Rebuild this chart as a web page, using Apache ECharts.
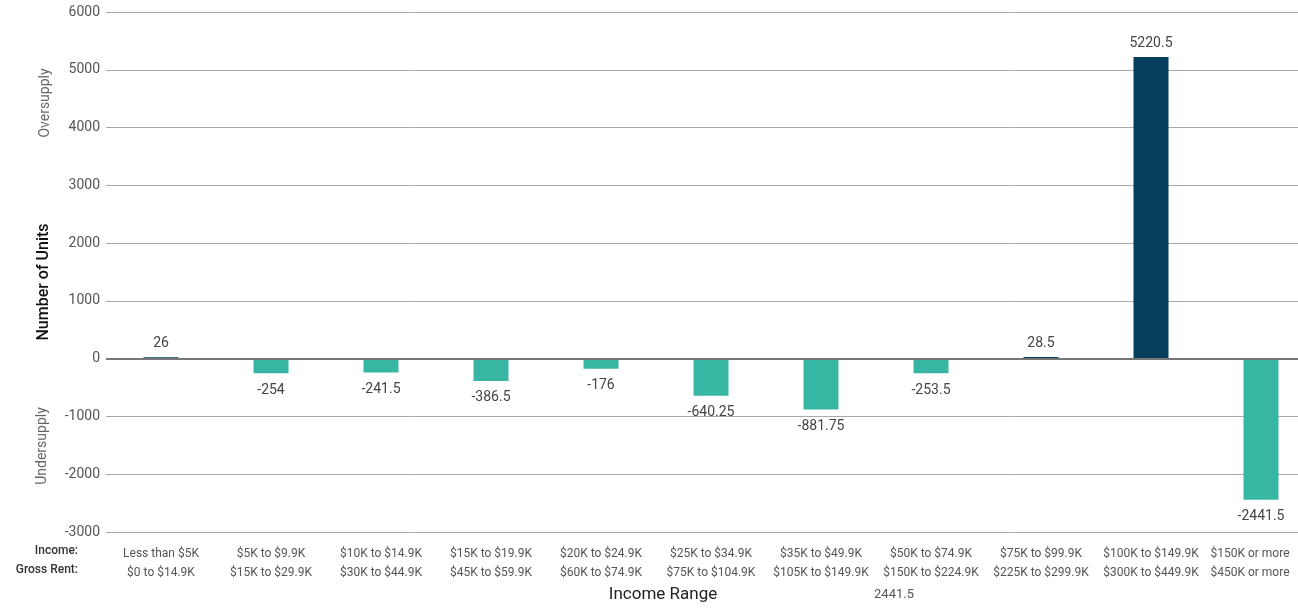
<!DOCTYPE html>
<html>
<head>
<meta charset="utf-8">
<script src="https://cdn.jsdelivr.net/npm/echarts@6/dist/echarts.min.js"></script>
<style>
  html, body { margin: 0; padding: 0; background: #fff; overflow: hidden; }
  /* plot runs a little past the right edge of the window, like the original */
  #main { width: 1316px; height: 611px; }
</style>
</head>
<body>
<div id="main"></div>
<script>
// categories, two lines each
var incomeLabels = ['Less than $5K', '$5K to $9.9K', '$10K to $14.9K', '$15K to $19.9K', '$20K to $24.9K', '$25K to $34.9K',
    '$35K to $49.9K', '$50K to $74.9K', '$75K to $99.9K', '$100K to $149.9K', '$150K or more'];
var rentLabels = ['$0 to $14.9K', '$15K to $29.9K', '$30K to $44.9K', '$45K to $59.9K', '$60K to $74.9K', '$75K to $104.9K',
    '$105K to $149.9K', '$150K to $224.9K', '$225K to $299.9K', '$300K to $449.9K', '$450K or more'];
// units, oversupply (+) / undersupply (-)
var unitValues = [26, -254, -241.5, -386.5, -176, -640.25, -881.75, -253.5, 28.5, 5220.5, -2441.5];

// last label is pulled left so it stays inside the window
var categories = incomeLabels.map(function (s, i) {
    var item = { value: s + '\n' + rentLabels[i] };
    if (i == incomeLabels.length - 1) {
        item.textStyle = { padding: [0, 22, 0, 0] };
    }
    return item;
});

var navy = '#063f5d';
var teal = '#38b6a4';
var fontName = 'Roboto';

var myChart = echarts.init(document.getElementById('main'));

// bar data, label below the bar when negative
var barData = unitValues.map(function (v) {
    return {
        value: v,
        label: { position: v >= 0 ? 'top' : 'bottom', distance: v >= 0 ? 7 : 10 }
    };
});

var option = {
    animation: false,
    textStyle: { fontFamily: fontName },
    grid: {
        left: 106,
        right: 0,
        top: 12,
        bottom: 79,
        containLabel: false
    },
    xAxis: {
        type: 'category',
        data: categories,
        axisLine: { show: false, onZero: false },
        axisTick: { show: false },
        axisLabel: {
            interval: 0,
            margin: 12,
            fontSize: 12,
            lineHeight: 19,
            color: '#555',
            fontFamily: fontName
        }
    },
    yAxis: {
        type: 'value',
        min: -3000,
        max: 6000,
        interval: 1000,
        axisLine: { show: false },
        axisTick: { show: false },
        axisLabel: {
            margin: 6,
            fontSize: 14,
            color: '#555',
            fontFamily: fontName,
            formatter: function (v) { return String(v); }
        },
        splitLine: {
            lineStyle: { color: '#aaa', width: 1 }
        }
    },
    series: [{
        name: 'Number of Units',
        type: 'bar',
        barWidth: 35,
        data: barData,
        itemStyle: {
            color: function (p) { return p.value >= 0 ? navy : teal; }
        },
        label: {
            show: true,
            fontSize: 14,
            color: '#444',
            fontFamily: fontName
        },
        markLine: {
            silent: true,
            symbol: 'none',
            label: { show: false },
            lineStyle: { color: '#777', width: 2, type: 'solid' },
            data: [{ yAxis: 0 }]
        }
    }],
    graphic: [
        {
            type: 'text', rotation: Math.PI / 2, x: 44, y: 282,
            style: { text: 'Number of Units', fontSize: 16, fontWeight: 500, fill: '#111', fontFamily: fontName,
                align: 'center', verticalAlign: 'middle' }
        },
        {
            type: 'text', rotation: Math.PI / 2, x: 45, y: 103,
            style: { text: 'Oversupply', fontSize: 14, fill: '#666', fontFamily: fontName,
                align: 'center', verticalAlign: 'middle' }
        },
        {
            type: 'text', rotation: Math.PI / 2, x: 42, y: 446,
            style: { text: 'Undersupply', fontSize: 14, fill: '#666', fontFamily: fontName,
                align: 'center', verticalAlign: 'middle' }
        },
        {
            type: 'text', x: 78, y: 551,
            style: { text: 'Income:', fontSize: 12, fontWeight: 500, fill: '#333', fontFamily: fontName,
                align: 'right', verticalAlign: 'middle' }
        },
        {
            type: 'text', x: 78, y: 570,
            style: { text: 'Gross Rent:', fontSize: 12, fontWeight: 500, fill: '#333', fontFamily: fontName,
                align: 'right', verticalAlign: 'middle' }
        },
        {
            type: 'text', x: 663, y: 595,
            style: { text: 'Income Range', fontSize: 17, fill: '#222', fontFamily: fontName,
                align: 'center', verticalAlign: 'middle' }
        },
        {
            type: 'text', x: 894, y: 595,
            style: { text: '2441.5', fontSize: 13, fill: '#555', fontFamily: fontName,
                align: 'center', verticalAlign: 'middle' }
        }
    ]
};

myChart.setOption(option);
</script>
</body>
</html>
